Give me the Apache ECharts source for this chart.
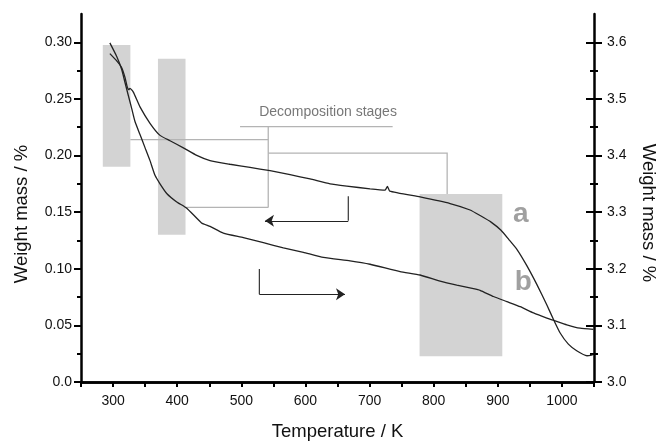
<!DOCTYPE html>
<html><head><meta charset="utf-8">
<script src="https://cdn.jsdelivr.net/npm/echarts@6/dist/echarts.min.js"></script>
<style>html,body{margin:0;padding:0;background:#fff}#c{width:658px;height:446px}</style>
</head><body><div id="c"></div>
<script>
// Curve a (left axis, weight mass / %)
const tempA = [295, 306, 313.5, 318.6, 322.3, 324.5, 326.4, 331.6, 342, 357.6, 373.2, 388.8, 409.6, 430.5, 451.2, 482.4, 513.6, 544.8, 576, 607.2, 638.4, 664.5, 700.8, 724.2, 727.8, 731.5, 778.8, 825.6, 856.8, 872.4, 890, 905, 917, 930, 945, 961, 976.5, 987, 997, 1010, 1023, 1039, 1048];
const massA = [0.290, 0.2834, 0.2776, 0.269, 0.2603, 0.2582, 0.2594, 0.256, 0.243, 0.2285, 0.2178, 0.2131, 0.2068, 0.2001, 0.1955, 0.1923, 0.1895, 0.1866, 0.1831, 0.1793, 0.175, 0.173, 0.1706, 0.1695, 0.1727, 0.1686, 0.1634, 0.1576, 0.1519, 0.147, 0.141, 0.134, 0.126, 0.117, 0.103, 0.086, 0.068, 0.055, 0.0435, 0.0334, 0.0276, 0.0232, 0.024];
// Curve b (right axis, weight mass / %)
const tempB = [295, 305.7, 313.5, 318.6, 323.8, 329.1, 334.2, 342, 349.8, 357.6, 365.4, 373.2, 383.7, 399.3, 414.9, 438, 451.2, 472, 503.2, 534.4, 565.6, 596.8, 628, 669.6, 700.8, 747.6, 778.8, 810, 836, 862, 872.4, 893.2, 914.1, 934.9, 955.7, 976.5, 989.4, 1007.6, 1028.4, 1049];
const massB = [3.599, 3.575, 3.552, 3.529, 3.506, 3.483, 3.460, 3.437, 3.414, 3.391, 3.365, 3.350, 3.333, 3.318, 3.307, 3.281, 3.275, 3.263, 3.255, 3.246, 3.237, 3.229, 3.220, 3.214, 3.208, 3.195, 3.189, 3.178, 3.171, 3.165, 3.162, 3.151, 3.142, 3.133, 3.122, 3.113, 3.108, 3.101, 3.095, 3.093];
// Tick labels
const xTickLabels = [300, 400, 500, 600, 700, 800, 900, 1000];
const leftTickLabels = [0, 0.05, 0.10, 0.15, 0.20, 0.25, 0.30];
const rightTickLabels = [3.0, 3.1, 3.2, 3.3, 3.4, 3.5, 3.6];
// Decomposition stage windows (temperature range, left-axis mass range)
const stageTStart = [284, 370, 778];
const stageTEnd = [327, 413, 907];
const stageMassLow = [0.190, 0.130, 0.0227];
const stageMassHigh = [0.2976, 0.2854, 0.166];

const FONT = '"Liberation Sans", Arial, Helvetica, sans-serif';
const xMin = 250, xMax = 1050, lMin = 0, lMax = 0.325, rMin = 3.0, rMax = 3.65;

const xTicks = []; for (let v = xMin; v <= xMax + 1e-9; v += 50) xTicks.push(v);
const leftMinor = leftTickLabels.map(v => +(v + 0.025).toFixed(3)).filter(v => v < lMax);
const rightMinor = rightTickLabels.map(v => +(v + 0.05).toFixed(2)).filter(v => v < rMax);

// annotation anchor points (data units)
const bracketPaths = [
  [[327, 0.2140], [542, 0.2140]],
  [[413, 0.1542], [542, 0.1542]],
  [[542, 0.2256], [542, 0.1542]],
  [[498, 0.2256], [736, 0.2256]],
  [[542, 0.2022], [821, 0.2022], [821, 0.1660]]
];
const arrowStems = [
  [[666.8, 0.1641], [666.8, 0.1424]],
  [[528.1, 0.0999], [528.1, 0.0776]]
];
const arrowHeads = [
  [[666.8, 0.1424], [536.9, 0.1424]],
  [[528.1, 0.0776], [661.7, 0.0776]]
];

const axisLineStyle = { color: '#000', width: 2.5 };
const baseY = (extra) => Object.assign({ type: 'value', splitLine: { show: false } }, extra);

const chart = echarts.init(document.getElementById('c'));
chart.setOption({
  animation: false,
  backgroundColor: '#fff',
  grid: { left: 81, right: 64, top: 14, bottom: 57 },
  xAxis: [
    {
      type: 'value', min: xMin, max: xMax, position: 'bottom',
      axisLine: { lineStyle: axisLineStyle },
      axisTick: { customValues: xTicks, length: 5, lineStyle: { color: '#000', width: 2 } },
      axisLabel: { customValues: xTickLabels, color: '#111', fontSize: 14, fontFamily: FONT, margin: 12,
        formatter: v => String(Math.round(v)) },
      splitLine: { show: false },
      name: 'Temperature / K', nameLocation: 'middle', nameGap: 40,
      nameTextStyle: { fontSize: 18.5, fontFamily: FONT, color: '#111' }
    },
    {
      type: 'value', min: xMin, max: xMax, position: 'top',
      axisLine: { show: true, lineStyle: axisLineStyle },
      axisTick: { show: false }, axisLabel: { show: false }, splitLine: { show: false }
    }
  ],
  yAxis: [
    baseY({
      min: lMin, max: lMax, position: 'left',
      axisLine: { show: true, lineStyle: axisLineStyle },
      axisTick: { customValues: leftTickLabels, length: 7, lineStyle: { color: '#000', width: 2 } },
      axisLabel: { customValues: leftTickLabels, color: '#111', fontSize: 14, fontFamily: FONT, margin: 9,
        formatter: v => (v === 0 ? '0.0' : v.toFixed(2)) }
    }),
    baseY({
      min: rMin, max: rMax, position: 'right',
      axisLine: { show: true, lineStyle: axisLineStyle },
      axisTick: { customValues: rightTickLabels, length: 8, lineStyle: { color: '#000', width: 2 } },
      axisLabel: { customValues: rightTickLabels, color: '#111', fontSize: 14, fontFamily: FONT, margin: 13,
        formatter: v => v.toFixed(1) }
    }),
    baseY({
      min: rMin, max: rMax, position: 'right',
      axisLine: { show: false },
      axisTick: { customValues: rightTickLabels, inside: true, length: 8, lineStyle: { color: '#000', width: 2 } },
      axisLabel: { show: false }
    }),
    baseY({
      min: rMin, max: rMax, position: 'right',
      axisLine: { show: false },
      axisTick: { customValues: rightMinor, length: 4, lineStyle: { color: '#000', width: 2 } },
      axisLabel: { show: false }
    }),
    baseY({
      min: rMin, max: rMax, position: 'right',
      axisLine: { show: false },
      axisTick: { customValues: rightMinor, inside: true, length: 4, lineStyle: { color: '#000', width: 2 } },
      axisLabel: { show: false }
    }),
    baseY({
      min: lMin, max: lMax, position: 'left',
      axisLine: { show: false },
      axisTick: { customValues: leftMinor, length: 4, lineStyle: { color: '#000', width: 2 } },
      axisLabel: { show: false }
    })
  ],
  graphic: [
    { type: 'text', x: 22, y: 214, rotation: Math.PI / 2,
      style: { text: 'Weight mass / %', font: '18.5px ' + FONT, fill: '#111', align: 'center', verticalAlign: 'middle' } },
    { type: 'text', x: 648, y: 213, rotation: -Math.PI / 2,
      style: { text: 'Weight mass / %', font: '18.5px ' + FONT, fill: '#111', align: 'center', verticalAlign: 'middle' } }
  ],
  series: [
    {
      type: 'custom', name: 'stages', xAxisIndex: 0, yAxisIndex: 0, z: 1, silent: true,
      data: stageTStart.map((t, i) => [t, stageTEnd[i], stageMassLow[i], stageMassHigh[i]]),
      renderItem: (params, api) => {
        const p1 = api.coord([api.value(0), api.value(3)]);
        const p2 = api.coord([api.value(1), api.value(2)]);
        return { type: 'rect', shape: { x: p1[0], y: p1[1], width: p2[0] - p1[0], height: p2[1] - p1[1] },
          style: { fill: '#d3d3d3' } };
      }
    },
    {
      type: 'lines', coordinateSystem: 'cartesian2d', polyline: true, z: 2, silent: true,
      lineStyle: { color: '#b4b4b4', width: 1.3, opacity: 1 },
      data: bracketPaths.map(c => ({ coords: c }))
    },
    {
      type: 'lines', coordinateSystem: 'cartesian2d', polyline: true, z: 3, silent: true,
      lineStyle: { color: '#222', width: 1.1, opacity: 1 },
      data: arrowStems.map(c => ({ coords: c }))
    },
    {
      type: 'lines', coordinateSystem: 'cartesian2d', z: 3, silent: true,
      symbol: ['none', 'arrow'], symbolSize: [6, 9],
      lineStyle: { color: '#222', width: 1.1, opacity: 1 },
      data: arrowHeads.map(c => ({ coords: c }))
    },
    {
      type: 'line', name: 'a', xAxisIndex: 0, yAxisIndex: 0, z: 4, symbol: 'none', smooth: 0.15,
      lineStyle: { color: '#222', width: 1.3 },
      data: tempA.map((t, i) => [t, massA[i]])
    },
    {
      type: 'line', name: 'b', xAxisIndex: 0, yAxisIndex: 1, z: 4, symbol: 'none', smooth: 0.15,
      lineStyle: { color: '#222', width: 1.3 },
      data: tempB.map((t, i) => [t, massB[i]])
    },
    {
      type: 'scatter', xAxisIndex: 0, yAxisIndex: 0, symbolSize: 0, z: 5, silent: true,
      label: { show: true, position: 'inside', fontFamily: FONT },
      data: [
        { value: [635.2, 0.2386], label: { formatter: 'Decomposition stages', fontSize: 14, color: '#555' } },
        { value: [935.7, 0.1484], label: { formatter: 'a', fontSize: 28, fontWeight: 'bold', color: '#888' } },
        { value: [939.8, 0.0877], label: { formatter: 'b', fontSize: 28, fontWeight: 'bold', color: '#888' } }
      ]
    }
  ]
});
</script>
</body></html>
